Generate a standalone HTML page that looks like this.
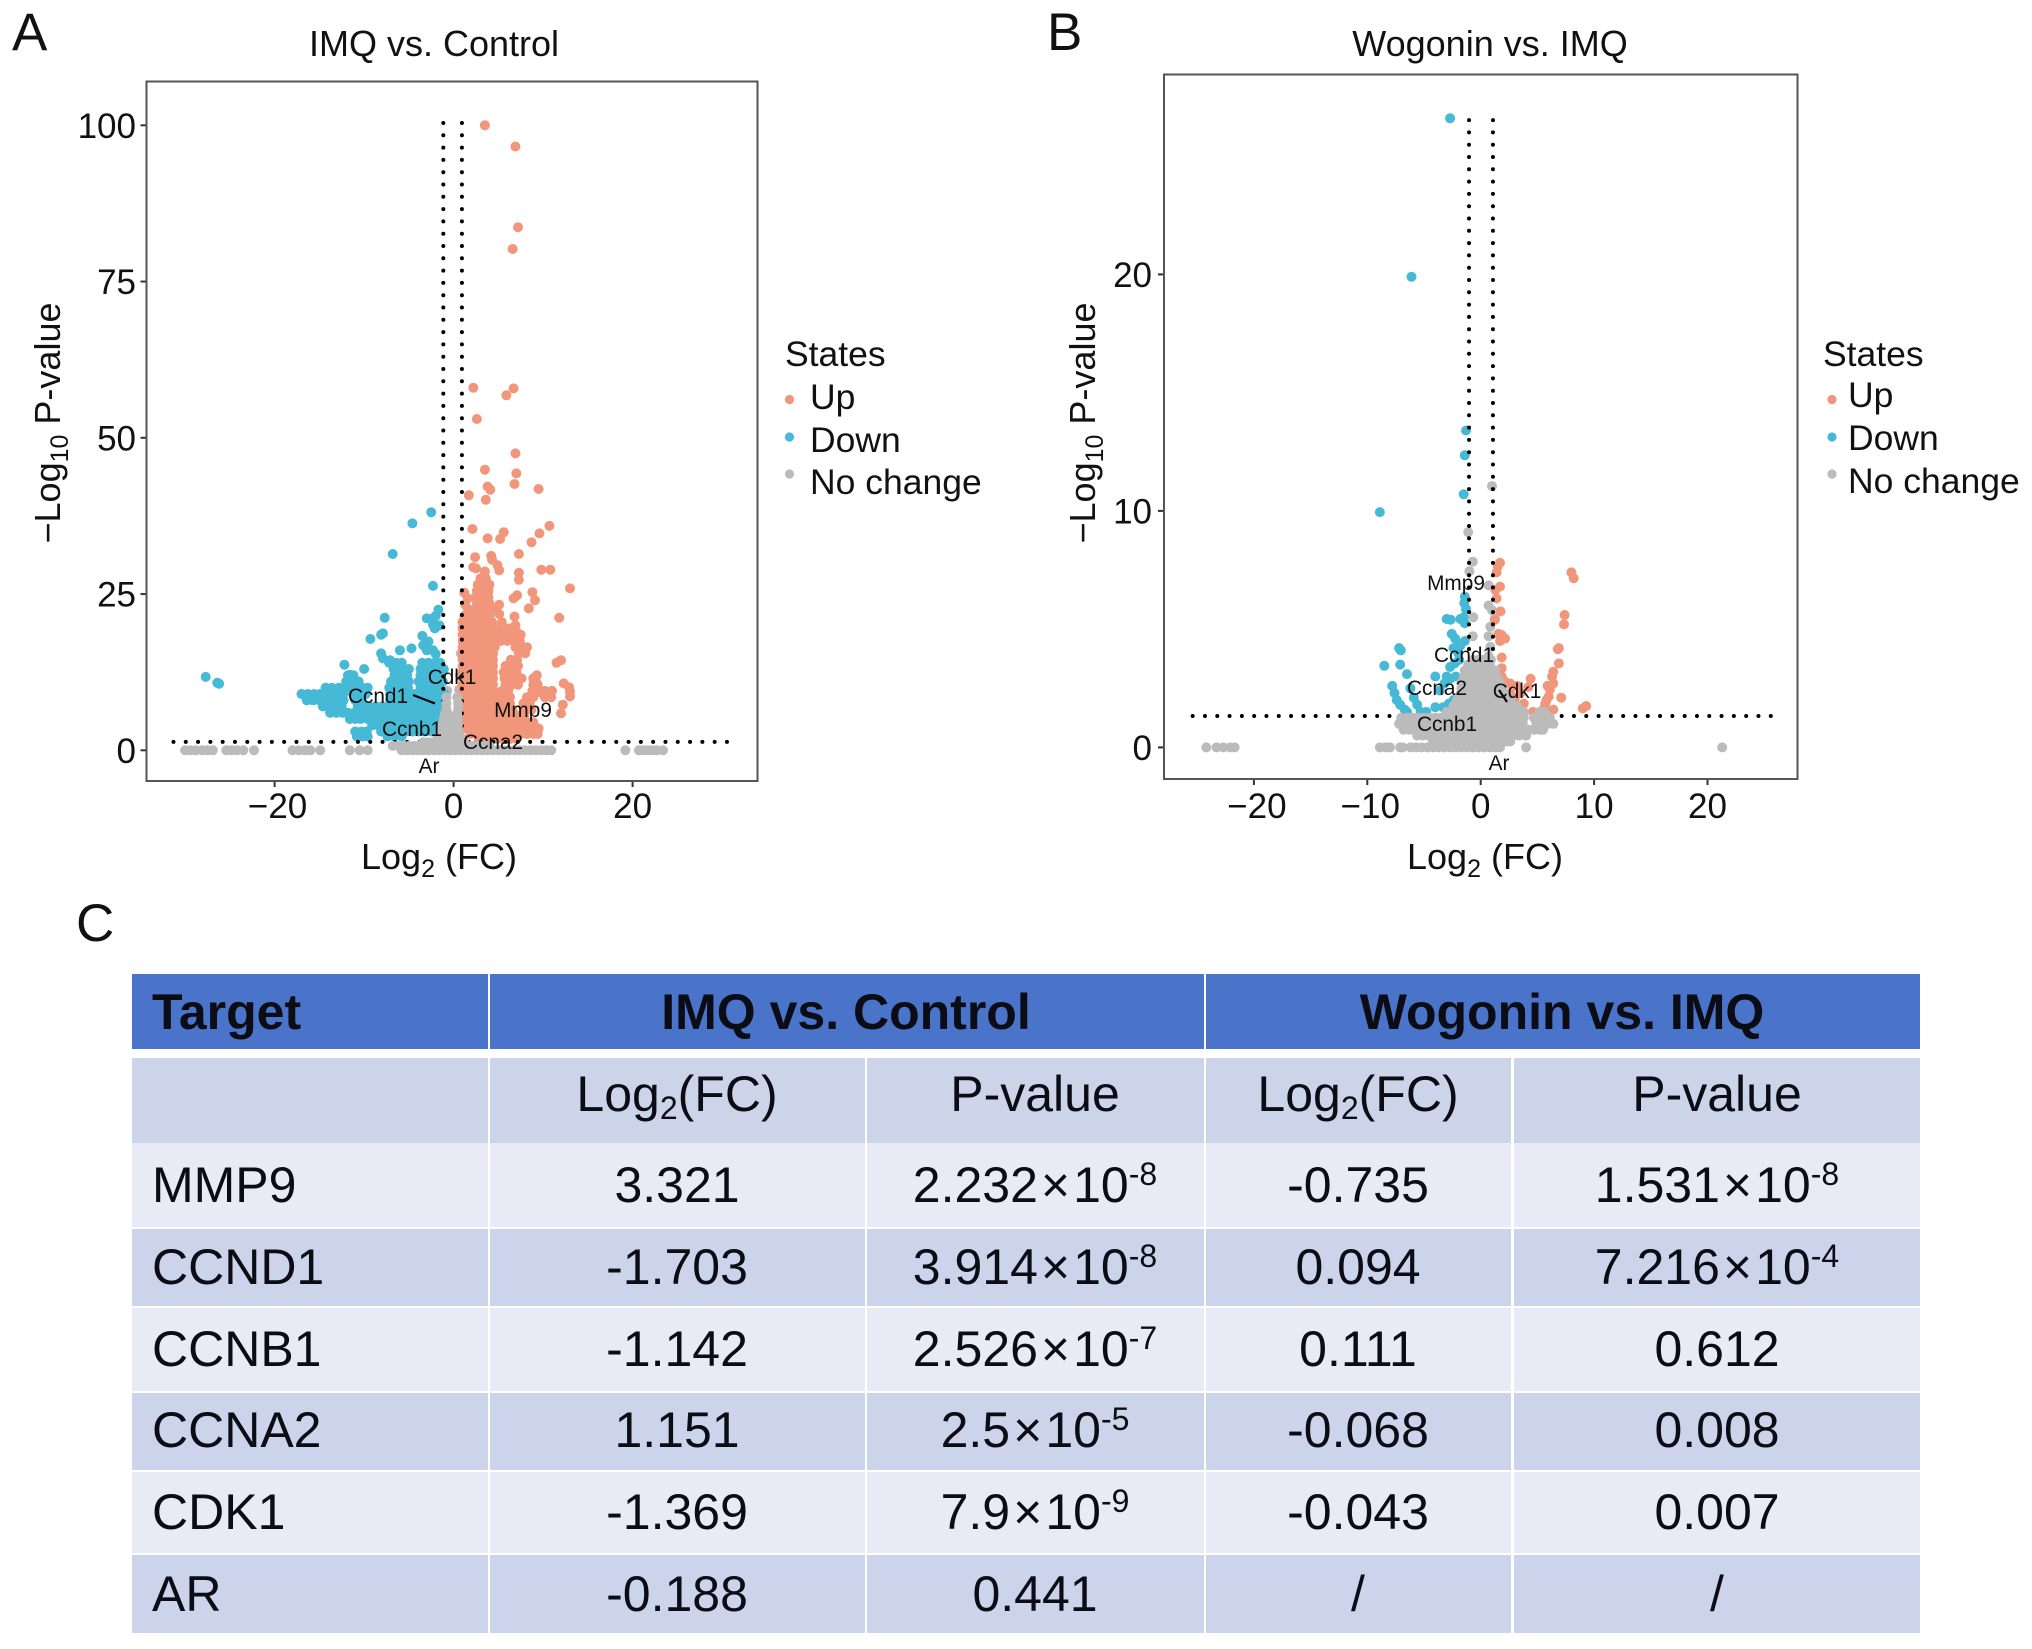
<!DOCTYPE html>
<html lang="en">
<head>
<meta charset="utf-8">
<title>Volcano plots and target table</title>
<style>
html,body{margin:0;padding:0;background:#fff;}
svg{display:block;font-family:"Liberation Sans",Arial,sans-serif;fill:#111;}
.tick{font-size:35px;fill:#111;}
.axt{font-size:36px;fill:#111;}
.leg{font-size:35.5px;fill:#111;}
.rep{font-size:20.8px;fill:#111;}
.pl{font-size:53px;fill:#111;}
.th{font-size:50px;font-weight:bold;fill:#0c0c14;}
.td{font-size:50px;fill:#0c0c14;}
</style>
</head>
<body>
<svg id="fig" xmlns="http://www.w3.org/2000/svg" width="2032" height="1649" viewBox="0 0 2032 1649">
  <rect x="0" y="0" width="2032" height="1649" fill="#ffffff"/>

  <text class="pl" x="12" y="50">A</text>
  <text class="pl" x="1047" y="50">B</text>
  <text class="pl" x="76" y="941">C</text>

  <text class="axt" x="434" y="56" text-anchor="middle">IMQ vs. Control</text>
  <text class="axt" x="1490" y="56" text-anchor="middle">Wogonin vs. IMQ</text>

  <g id="panelA"></g>
  <g id="panelB"></g>

  <text class="axt" x="439" y="869" text-anchor="middle">Log<tspan font-size="25" dy="8">2</tspan><tspan dy="-8"> (FC)</tspan></text>
  <text class="axt" x="1485" y="869" text-anchor="middle">Log<tspan font-size="25" dy="8">2</tspan><tspan dy="-8"> (FC)</tspan></text>
  <text class="axt" transform="translate(60,423) rotate(-90)" text-anchor="middle">−Log<tspan font-size="25" dy="8">10</tspan><tspan dy="-8"> P-value</tspan></text>
  <text class="axt" transform="translate(1095,423) rotate(-90)" text-anchor="middle">−Log<tspan font-size="25" dy="8">10</tspan><tspan dy="-8"> P-value</tspan></text>

  <g>
    <text class="leg" x="785" y="366">States</text>
    <circle cx="789.5" cy="399.5" r="4.6" fill="#f2967b"/>
    <text class="leg" x="810" y="409">Up</text>
    <circle cx="789.5" cy="437" r="4.6" fill="#45b9d6"/>
    <text class="leg" x="810" y="452">Down</text>
    <circle cx="789.5" cy="474" r="4.6" fill="#bbbbbb"/>
    <text class="leg" x="810" y="494">No change</text>
  </g>
  <g>
    <text class="leg" x="1823" y="366">States</text>
    <circle cx="1832" cy="399.5" r="4.6" fill="#f2967b"/>
    <text class="leg" x="1848" y="407">Up</text>
    <circle cx="1832" cy="437" r="4.6" fill="#45b9d6"/>
    <text class="leg" x="1848" y="450">Down</text>
    <circle cx="1832" cy="474" r="4.6" fill="#bbbbbb"/>
    <text class="leg" x="1848" y="493">No change</text>
  </g>

  <g id="table">
    <rect x="132" y="974" width="356" height="75" fill="#4a73ca"/>
    <rect x="490" y="974" width="714" height="75" fill="#4a73ca"/>
    <rect x="1206" y="974" width="714" height="75" fill="#4a73ca"/>
    <text class="th" x="152" y="1029">Target</text>
    <text class="th" x="846" y="1029" text-anchor="middle">IMQ vs. Control</text>
    <text class="th" x="1562" y="1029" text-anchor="middle">Wogonin vs. IMQ</text>

    <g fill="#ccd4e9">
      <rect x="132" y="1058" width="356" height="85"/><rect x="490" y="1058" width="375" height="85"/><rect x="867" y="1058" width="337" height="85"/><rect x="1206" y="1058" width="305" height="85"/><rect x="1514" y="1058" width="406" height="85"/>
    </g>
    <g fill="#e8ebf6">
      <rect x="132" y="1143" width="356" height="84"/><rect x="490" y="1143" width="375" height="84"/><rect x="867" y="1143" width="337" height="84"/><rect x="1206" y="1143" width="305" height="84"/><rect x="1514" y="1143" width="406" height="84"/>
    </g>
    <g fill="#cbd4ea">
      <rect x="132" y="1229" width="356" height="77"/><rect x="490" y="1229" width="375" height="77"/><rect x="867" y="1229" width="337" height="77"/><rect x="1206" y="1229" width="305" height="77"/><rect x="1514" y="1229" width="406" height="77"/>
    </g>
    <g fill="#e8ebf6">
      <rect x="132" y="1308" width="356" height="83"/><rect x="490" y="1308" width="375" height="83"/><rect x="867" y="1308" width="337" height="83"/><rect x="1206" y="1308" width="305" height="83"/><rect x="1514" y="1308" width="406" height="83"/>
    </g>
    <g fill="#cbd4ea">
      <rect x="132" y="1393" width="356" height="77"/><rect x="490" y="1393" width="375" height="77"/><rect x="867" y="1393" width="337" height="77"/><rect x="1206" y="1393" width="305" height="77"/><rect x="1514" y="1393" width="406" height="77"/>
    </g>
    <g fill="#e8ebf6">
      <rect x="132" y="1472" width="356" height="81"/><rect x="490" y="1472" width="375" height="81"/><rect x="867" y="1472" width="337" height="81"/><rect x="1206" y="1472" width="305" height="81"/><rect x="1514" y="1472" width="406" height="81"/>
    </g>
    <g fill="#cbd4ea">
      <rect x="132" y="1555" width="356" height="78"/><rect x="490" y="1555" width="375" height="78"/><rect x="867" y="1555" width="337" height="78"/><rect x="1206" y="1555" width="305" height="78"/><rect x="1514" y="1555" width="406" height="78"/>
    </g>

    <text class="td" x="677" y="1111" text-anchor="middle">Log<tspan font-size="32" dy="8">2</tspan><tspan dy="-8">(FC)</tspan></text>
    <text class="td" x="1035" y="1111" text-anchor="middle">P-value</text>
    <text class="td" x="1358" y="1111" text-anchor="middle">Log<tspan font-size="32" dy="8">2</tspan><tspan dy="-8">(FC)</tspan></text>
    <text class="td" x="1717" y="1111" text-anchor="middle">P-value</text>

    <text class="td" x="152" y="1202">MMP9</text>
    <text class="td" x="677" y="1202" text-anchor="middle">3.321</text>
    <text class="td" x="1035" y="1202" text-anchor="middle">2.232<tspan dx="3">×</tspan><tspan dx="3">10</tspan><tspan font-size="32" dy="-17">-8</tspan></text>
    <text class="td" x="1358" y="1202" text-anchor="middle">-0.735</text>
    <text class="td" x="1717" y="1202" text-anchor="middle">1.531<tspan dx="3">×</tspan><tspan dx="3">10</tspan><tspan font-size="32" dy="-17">-8</tspan></text>

    <text class="td" x="152" y="1284">CCND1</text>
    <text class="td" x="677" y="1284" text-anchor="middle">-1.703</text>
    <text class="td" x="1035" y="1284" text-anchor="middle">3.914<tspan dx="3">×</tspan><tspan dx="3">10</tspan><tspan font-size="32" dy="-17">-8</tspan></text>
    <text class="td" x="1358" y="1284" text-anchor="middle">0.094</text>
    <text class="td" x="1717" y="1284" text-anchor="middle">7.216<tspan dx="3">×</tspan><tspan dx="3">10</tspan><tspan font-size="32" dy="-17">-4</tspan></text>

    <text class="td" x="152" y="1366">CCNB1</text>
    <text class="td" x="677" y="1366" text-anchor="middle">-1.142</text>
    <text class="td" x="1035" y="1366" text-anchor="middle">2.526<tspan dx="3">×</tspan><tspan dx="3">10</tspan><tspan font-size="32" dy="-17">-7</tspan></text>
    <text class="td" x="1358" y="1366" text-anchor="middle">0.111</text>
    <text class="td" x="1717" y="1366" text-anchor="middle">0.612</text>

    <text class="td" x="152" y="1447">CCNA2</text>
    <text class="td" x="677" y="1447" text-anchor="middle">1.151</text>
    <text class="td" x="1035" y="1447" text-anchor="middle">2.5<tspan dx="3">×</tspan><tspan dx="3">10</tspan><tspan font-size="32" dy="-17">-5</tspan></text>
    <text class="td" x="1358" y="1447" text-anchor="middle">-0.068</text>
    <text class="td" x="1717" y="1447" text-anchor="middle">0.008</text>

    <text class="td" x="152" y="1529">CDK1</text>
    <text class="td" x="677" y="1529" text-anchor="middle">-1.369</text>
    <text class="td" x="1035" y="1529" text-anchor="middle">7.9<tspan dx="3">×</tspan><tspan dx="3">10</tspan><tspan font-size="32" dy="-17">-9</tspan></text>
    <text class="td" x="1358" y="1529" text-anchor="middle">-0.043</text>
    <text class="td" x="1717" y="1529" text-anchor="middle">0.007</text>

    <text class="td" x="152" y="1611">AR</text>
    <text class="td" x="677" y="1611" text-anchor="middle">-0.188</text>
    <text class="td" x="1035" y="1611" text-anchor="middle">0.441</text>
    <text class="td" x="1358" y="1611" text-anchor="middle">/</text>
    <text class="td" x="1717" y="1611" text-anchor="middle">/</text>
  </g>
</svg>

<script>
// ---------- panel A data (log2 FC, -log10 p) ----------
const aXTicks = [-20, 0, 20];
const aYTicks = [0, 25, 50, 75, 100];
const aUpPoints = [[3.5,100],[6.9,96.6],[7.2,83.7],[6.6,80.2],[2.2,58],[6.7,57.9],[5.9,56.8],[2.6,53],[6.9,47.5],[7,44.3],[3.5,44.9],[6.8,42.6],[3.8,42.2],[4.1,41.7],[9.5,41.8],[1.7,40.8],[3.6,40.1],[10.7,35.9],[2.1,35.4],[9.6,34.7],[5.6,34.9],[3.8,33.9],[5.2,33.8],[8.7,33.3],[7.3,31.4],[2.4,30.9],[4.2,31.1],[4.3,30.5],[4.9,29.6],[5.1,28.8],[2.2,29.3],[2.5,29.1],[3.5,28.6],[9.8,28.9],[10.8,28.9],[7.3,28.4],[7.3,27.3],[13,25.9],[8.8,25.3],[9.1,24],[6.7,24.3],[7.1,24.8],[5.1,23.3],[8.4,22.7],[11.8,21.2],[12,14.4],[12.3,10.7],[12.9,10.1],[13,9.4],[13,8.6],[12.2,7.3],[12,5.9],[1.2,25.2],[1.6,24.3],[1.3,23.3],[1.6,22.6],[2,22.4],[5.1,21.8],[6.8,21.4],[6.9,20],[7,19],[11.5,14],[9.3,12],[9.2,11],[9,10],[9.7,9.3],[10.7,8.9]];
const aUpRows = [
 [1.8,[2.8,3.5,4.2,4.9,5.6,6.3,7]],
 [2.6,[1.9,2.6,3.3,4,4.7,5.4,6.1,6.8,7.5,8.2,8.9,9.4]],
 [3.5,[1.4,2.1,2.8,3.5,4.2,4.9,5.6,6.3,7,7.7,8.4,9.1,9.5]],
 [4.5,[1.2,1.9,2.6,3.3,4,4.7,5.4,6.1,6.8,7.5,8.2,8.9]],
 [5.5,[1,1.7,2.4,3.1,3.8,4.5,5.2,5.9,6.6,7.3,7.9]],
 [6.5,[1,1.7,2.4,3.1,3.8,4.5,5.2,5.9,6.6,8,8.7]],
 [7.5,[1,1.7,2.4,3.1,3.8,4.5,5.2,5.9,6.3,7.8,8.5]],
 [8.5,[1,1.7,2.4,3.1,3.8,4.5,5.2,5.9,6.3,8.2,8.9,10.2,10.9]],
 [9.5,[1,1.7,2.4,3.1,3.8,4.5,5.4,6.1,8.8,10.2,11]],
 [10.5,[1,1.7,2.4,3.1,3.8,4.4,5.8,6.5,7.2,8.9,9.4]],
 [11.5,[1,1.7,2.4,3.1,3.8,4.4,5.7,6.4,7.1,7.6,8.9]],
 [12.5,[1,1.7,2.4,3.1,3.8,4.4,5.6,6.3,7]],
 [13.5,[1,1.7,2.4,3.1,3.8,4.4,5.8,6.5,7.2]],
 [14.5,[1,1.7,2.4,3.1,3.8,4.4,6.4,7.1]],
 [15.5,[1,1.7,2.4,3.1,3.8,4.4,7.3,8]],
 [16.5,[1,1.7,2.4,3.1,3.8,4.6,6.9,7.6,8.2]],
 [17.5,[1,1.7,2.4,3.1,3.8,4.5,5.3,6,6.7,7.4]],
 [18.5,[1,1.7,2.4,3.1,3.8,4.5,5.2,5.9,6.6,7.5]],
 [19.5,[1,1.7,2.4,3.1,3.8,4.5,5.2,6.2]],
 [20.5,[1,1.5,2.2,2.9,3.6,4.3,5.4]],
 [21.5,[1.2,1.9,2.6,3.3,4]],
 [22.5,[2.3,3,3.7,4.3]],
 [23.5,[2.6,3.3,4]],
 [24.5,[2.5,3.2,3.9]],
 [25.5,[2.6,3.3,3.9]],
 [26.5,[2.7,3.4,4]],
 [27.5,[3,3.6]]
];
const aDownPoints = [[-27.7,11.75],[-26.4,10.8],[-26.2,10.65],[-2.5,38.1],[-4.6,36.3],[-6.8,31.4],[-2.3,26.3],[-1.7,22.5],[-3,21.1],[-2.3,21.1],[-2,21.5],[-2.3,20.1],[-2.1,19.5],[-3.5,18.3],[-7.7,21.2],[-9.3,17.8],[-8.1,18.5],[-7.9,18.7],[-8.1,15.5],[-7.9,14.7],[-7.1,14.4],[-6,16],[-4.7,16.3],[-3.4,16.8],[-3,16],[-2.3,16],[-2,15.4],[-12.2,13.7],[-10,13],[-11.6,12.1],[-11.2,11.7],[-2.8,17.4],[-1.6,20]];
const aDownRows = [
 [2.2,[-10.8,-10.2,-9.6,-7.4,-6.6,-5.8]],
 [3,[-11,-10.3,-9.7,-8.1,-7.4,-6.7,-6,-5.3,-4.6,-3.9,-3.2,-2.5]],
 [4,[-9.1,-8.4,-7.7,-7,-6.3,-5.6,-4.9,-4.2,-3.5,-2.8,-2.1]],
 [5,[-11.6,-11,-10.4,-9.6,-8.9,-8.2,-7.5,-6.8,-6.1,-5.4,-4.7,-4,-3.3,-2.6,-1.9]],
 [6,[-13.8,-13.1,-12.4,-11.8,-11.1,-10.4,-9.6,-8.9,-8.2,-7.5,-6.8,-6.1,-5.4,-4.7,-4,-3.3,-2.6,-1.8]],
 [7,[-14.6,-13.9,-13.2,-12.5,-10.7,-10.1,-9.4,-8.7,-8,-7.3,-6.6,-5.9,-5.2,-4.5,-3.8,-3.1,-2.4,-1.7,-1.2]],
 [8,[-16.4,-15.7,-15,-14.3,-13.6,-12.9,-12.3,-11,-10.3,-7.1,-6.4,-5.7,-5,-4.3,-3.6,-2.9,-2.2,-1.5,-1.2]],
 [9,[-17,-16.3,-15.6,-14.9,-14.2,-13.5,-12.8,-12.3,-11.2,-10.5,-9.8,-7.1,-6.4,-5.7,-5,-4.3,-3.6,-2.9,-2.2,-1.5,-1]],
 [10,[-14.3,-13.6,-12.8,-12.2,-11.6,-10.9,-10.2,-9.6,-7.2,-6.5,-5.8,-5.1,-3.7,-3,-2.3,-1.6]],
 [11,[-12,-11.3,-10.6,-7,-6.3,-5.6,-5,-3.9,-3.2,-2.5,-1.8,-1.2]],
 [12,[-11.8,-11.2,-6.6,-5.9,-5.2,-3.7,-3,-2.3,-1.6]],
 [13,[-6.7,-6,-5,-3.7,-3,-2.3,-1.6,-1.1]],
 [14,[-7.2,-6.4,-5.8,-3.5,-2.8,-2.1,-1.5]]
];
const aGreyPoints = [[-.7,9.5],[.6,9.7],[.8,15.5],[.7,12]];
const aGreyRows = [
 [0,[-30,-29.4,-28.8,-28.1,-27.5,-26.9,-25.4,-24.8,-24.2,-23.5,-22.3,-18,-17.3,-16.6,-16,-14.9,-11.6,-10.5,-9.6,-5.8,-5.2,-4.6,-4,-3.4,-2.8,-2.2,-1.6,-1,-.4,.2,.8,1.4,2,2.6,3.2,3.8,4.4,5,5.6,6.2,6.8,7.4,8,8.6,9.2,9.8,10.4,10.9,19.2,20.7,21.2,21.7,22.2,22.7,23.4]],
 [.7,[-6.8,-6.2,-5.6,-5,-4.4,-3.8,-3.2,-2.6,-2,-1.4,-.8,-.2,.4,1,1.6,2.2,2.8,3.4,4]],
 [1.3,[-3.4,-2.8,-2.2,-1.6,-1,-.4,.2,.8,1.2]],
 [1.9,[-1.8,-1.2,-.6,0,.6,1]],
 [2.6,[-1.5,-.8,-.1,.6]],
 [3.4,[-1.3,-.7,-.1,.5]],
 [4.2,[-1.2,-.6,0,.5]],
 [5,[-1.1,-.5,.4]],
 [5.8,[-1,-.6,.4]],
 [6.6,[-.8,.5]],
 [7.5,[-.8,.5]],
 [8.5,[-.8,.4]]
];
const aXAxis = {zero: 453.6, perUnit: 8.95};
const aYAxis = {zero: 750.3, perUnit: 6.25};

// ---------- panel B data ----------
const bXTicks = [-20, -10, 0, 10, 20];
const bYTicks = [0, 10, 20];
const bUpPoints = [[1.7,7.8],[1.5,7.65],[1.4,7.4],[8,7.4],[8.2,7.15],[1.7,6.8],[1.3,6.66],[1.4,6.3],[1.75,5.75],[7.4,5.6],[7.35,5.2],[1.25,5.4],[1.55,4.8],[1.85,4.75],[2.15,4.6],[1.7,4.5],[6.9,4.2],[6.8,4.15],[6.9,3.55],[1.85,3.8],[1.85,3.35],[6.4,3.2],[6.3,3],[4.4,2.9],[1.85,3],[2.1,2.8],[2.6,2.7],[3.2,2.6],[4.2,2.55],[6.4,2.7],[6.1,2.45],[6,2.15],[7.1,2.1],[5.7,1.85],[5.6,1.65],[3.8,1.85],[3,2.05],[2.6,2.3],[3.5,2.3],[9.3,1.75],[9,1.65],[6.4,1.6],[5.9,2.6],[5.8,2],[4.6,1.5]];
const bDownPoints = [[-2.7,26.6],[-6.1,19.9],[-8.9,9.95],[-1.3,13.4],[-1.4,12.35],[-1.5,10.7],[-1.4,6.37],[-1.45,6.1],[-1.3,5.85],[-1.5,5.5],[-1.8,5.43],[-3,5.43],[-2.65,5.4],[-1.4,5.25],[-2.55,4.8],[-2.25,4.6],[-1.4,4.5],[-1.8,4.3],[-7.2,4.2],[-7.05,4.1],[-2.4,4.2],[-2,4],[-8.5,3.45],[-7.1,3.5],[-2.7,3.4],[-2.3,3.55],[-1.9,3.7],[-6.5,3.1],[-3,3],[-4,3],[-7.8,2.6],[-7.6,2.3],[-7.4,2],[-7.1,1.8],[-6.7,1.6],[-6.2,2.5],[-5.9,2.1],[-5.6,1.8],[-3.2,2.7],[-3.6,2.4],[-4,1.7],[-6.5,1.5],[-5.3,1.5],[-4.8,1.5],[-2.4,2],[-2.8,1.85],[-3.3,1.7],[-2.7,2.9],[-2.2,3]];
const bGreyPoints = [[1,11.05],[-1.1,9.1],[-.7,7.85],[-1,7.45],[.7,6.85],[.7,6],[1,5.8],[1.25,5.45],[.85,5.1],[.7,4.7],[.85,4.25],[.7,3.85],[-.65,5.5],[-.7,4.7]];
const bGreyRows = [
 [0,[-24.2,-23.3,-22.7,-22.1,-21.7,-8.9,-8.4,-8,-7.1,-6.9,-6.2,-5.7,-5.2,-4.7,-4.2,-3.7,-3.2,-2.7,-2.2,-1.7,-1.2,-.7,-.2,.3,.8,1.3,1.7,4,21.3]],
 [.25,[-4.2,-3.7,-3.2,-2.7,-2.2,-1.7,-1.2,-.7,-.2,.3,.8,1.3,1.8,2.3,2.6]],
 [.5,[-5.6,-5.1,-4.6,-4.1,-3.6,-3.1,-2.6,-2.1,-1.6,-1.1,-.6,-.1,.4,.9,1.4,1.9,2.4,2.9,3.4,4]],
 [.75,[-6.8,-6.3,-5.8,-5.3,-4.8,-4.3,-3.8,-3.3,-2.8,-2.3,-1.8,-1.3,-.8,-.3,.2,.7,1.2,1.7,2.2,2.7,3.2,3.7,4.2,4.7,5.2,5.5]],
 [1,[-7.2,-6.7,-6.2,-5.7,-5.2,-4.7,-4.2,-3.7,-3.2,-2.7,-2.2,-1.7,-1.2,-.7,-.2,.3,.8,1.3,1.8,2.3,2.8,3.3,3.7,4.9,5.4,5.9,6.4]],
 [1.25,[-7,-6.5,-6,-5.5,-5,-4.5,-4,-3.5,-3,-2.5,-2,-1.5,-1,-.5,0,.5,1,1.5,2,2.5,3,3.5,3.8,4.7,5.2,5.7,6.1]],
 [1.5,[-3,-2.5,-2,-1.5,-1,-.5,0,.5,1,1.5,2,2.5,3,3.5,3.8,5.2,5.6]],
 [1.75,[-2.4,-1.9,-1.4,-.9,-.4,.1,.6,1.1,1.6,2.1,2.6,3.2]],
 [2,[-2.1,-1.6,-1.1,-.6,-.1,.4,.9,1.4,1.9,2.3,2.6]],
 [2.25,[-1.8,-1.3,-.8,-.3,.2,.7,1.2,1.7,2.3]],
 [2.5,[-1.7,-1.2,-.7,-.2,.3,.8,1.3,1.9]],
 [2.75,[-1.7,-1.2,-.7,-.2,.3,.8,1.3,1.7]],
 [3,[-1.5,-1,-.5,0,.5,1,1.4]],
 [3.25,[-1.4,-.9,-.4,.1,.6,1.3]],
 [3.5,[-1.1,-.6,-.1,.4,.8]],
 [3.7,[-.7,-.2,.2,.6,.9]]
];
const bXAxis = {zero: 1480.7, perUnit: 11.34};
const bYAxis = {zero: 747.4, perUnit: 23.65};

const SVGNS = 'http://www.w3.org/2000/svg';
const POINT_RADIUS = 5;
const COLOR_UP = '#f2967b';
const COLOR_DOWN = '#45b9d6';
const COLOR_GREY = '#bbbbbb';

function makeEl(tag, parent) {
  const el = document.createElementNS(SVGNS, tag);
  parent.appendChild(el);
  return el;
}
function expandRows(rows) {
  const out = [];
  rows.forEach(function (r) {
    r[1].forEach(function (x) { out.push([x, r[0]]); });
  });
  return out;
}
function drawPoints(parent, pts, color, xf, yf, name) {
  pts.forEach(function (p) {
    const el = makeEl('circle', parent);
    el.setAttribute('cx', xf(p[0]).toFixed(1));
    el.setAttribute('cy', yf(p[1]).toFixed(1));
    el.setAttribute('r', POINT_RADIUS);
    el.setAttribute('fill', color);
    
    
  });
}
function drawDotted(parent, x1, y1, x2, y2, name) {
  const el = makeEl('line', parent);
  el.setAttribute('x1', x1);
  el.setAttribute('y1', y1);
  el.setAttribute('x2', x2);
  el.setAttribute('y2', y2);
  el.setAttribute('stroke', '#000');
  el.setAttribute('stroke-width', '4');
  el.setAttribute('stroke-linecap', 'round');
  el.setAttribute('stroke-dasharray', '0 12.3');
  
  
}
function drawLabel(parent, text, x, y, name) {
  const el = makeEl('text', parent);
  el.setAttribute('x', x);
  el.setAttribute('y', y);
  el.setAttribute('class', 'rep');
  el.setAttribute('text-anchor', 'middle');
  el.textContent = text;
  
  
}
function drawSegment(parent, x1, y1, x2, y2, name) {
  const el = makeEl('line', parent);
  el.setAttribute('x1', x1);
  el.setAttribute('y1', y1);
  el.setAttribute('x2', x2);
  el.setAttribute('y2', y2);
  el.setAttribute('stroke', '#000');
  el.setAttribute('stroke-width', '2.2');
  
  
}
function drawAxes(parent, frame, xTicks, yTicks, xf, yf, yLabelRight) {
  xTicks.forEach(function (v) {
    const t = makeEl('line', parent);
    t.setAttribute('x1', xf(v));
    t.setAttribute('x2', xf(v));
    t.setAttribute('y1', frame.bottom);
    t.setAttribute('y2', frame.bottom + 6);
    t.setAttribute('stroke', '#333');
    t.setAttribute('stroke-width', '2');
    
    
    const l = makeEl('text', parent);
    l.setAttribute('x', xf(v) + (v < 0 ? 3 : 0));
    l.setAttribute('y', 818);
    l.setAttribute('class', 'tick');
    l.setAttribute('text-anchor', 'middle');
    l.textContent = String(v).replace('-', '\u2212');
    
    
  });
  yTicks.forEach(function (v) {
    const t = makeEl('line', parent);
    t.setAttribute('x1', frame.left - 6);
    t.setAttribute('x2', frame.left);
    t.setAttribute('y1', yf(v));
    t.setAttribute('y2', yf(v));
    t.setAttribute('stroke', '#333');
    t.setAttribute('stroke-width', '2');
    
    
    const l = makeEl('text', parent);
    l.setAttribute('x', yLabelRight);
    l.setAttribute('y', yf(v) + 12.5);
    l.setAttribute('class', 'tick');
    l.setAttribute('text-anchor', 'end');
    l.textContent = String(v);
    
    
  });
}
function drawFrame(parent, frame) {
  const el = makeEl('rect', parent);
  el.setAttribute('x', frame.left);
  el.setAttribute('y', frame.top);
  el.setAttribute('width', frame.right - frame.left);
  el.setAttribute('height', frame.bottom - frame.top);
  el.setAttribute('fill', 'none');
  el.setAttribute('stroke', '#555');
  el.setAttribute('stroke-width', '2');
  
  
}

function xA(v) { return aXAxis.zero + v * aXAxis.perUnit; }
function yA(v) { return aYAxis.zero - v * aYAxis.perUnit; }
function xB(v) { return bXAxis.zero + v * bXAxis.perUnit; }
function yB(v) { return bYAxis.zero - v * bYAxis.perUnit; }

// Panel A
(function () {
  const g = document.getElementById('panelA');
  const frame = {left: 146.5, right: 757.5, top: 81.5, bottom: 781};
  drawAxes(g, frame, aXTicks, aYTicks, xA, yA, 136);
  drawPoints(g, aGreyPoints, COLOR_GREY, xA, yA, 'point-no-change');
  drawPoints(g, aUpPoints.concat(expandRows(aUpRows)), COLOR_UP, xA, yA, 'point-up');
  drawPoints(g, aDownPoints.concat(expandRows(aDownRows)), COLOR_DOWN, xA, yA, 'point-down');
  drawDotted(g, xA(-1.15), yA(0), xA(-1.15), yA(101.5), 'threshold-fc-low');
  drawDotted(g, xA(.93), yA(0), xA(.93), yA(101.5), 'threshold-fc-high');
  drawDotted(g, xA(-31.3), yA(1.35), xA(31.2), yA(1.35), 'threshold-p-value');
  drawPoints(g, expandRows(aGreyRows), COLOR_GREY, xA, yA, 'point-no-change');
  drawFrame(g, frame);
  drawSegment(g, 413, 695, 435, 703.5, 'ccnd1-leader-line');
  drawLabel(g, 'Ccnd1', 378, 703, 'gene-label-ccnd1');
  drawLabel(g, 'Cdk1', 452, 684, 'gene-label-cdk1');
  drawLabel(g, 'Mmp9', 523, 717, 'gene-label-mmp9');
  drawLabel(g, 'Ccnb1', 412, 736, 'gene-label-ccnb1');
  drawLabel(g, 'Ccna2', 493, 749, 'gene-label-ccna2');
  drawLabel(g, 'Ar', 429, 773, 'gene-label-ar');
})();

// Panel B
(function () {
  const g = document.getElementById('panelB');
  const frame = {left: 1164, right: 1797.5, top: 74.5, bottom: 779};
  drawAxes(g, frame, bXTicks, bYTicks, xB, yB, 1152);
  drawPoints(g, bGreyPoints, COLOR_GREY, xB, yB, 'point-no-change');
  drawPoints(g, bUpPoints, COLOR_UP, xB, yB, 'point-up');
  drawPoints(g, bDownPoints, COLOR_DOWN, xB, yB, 'point-down');
  drawDotted(g, xB(-1.03), yB(0), xB(-1.03), yB(27), 'threshold-fc-low');
  drawDotted(g, xB(1.08), yB(0), xB(1.08), yB(27), 'threshold-fc-high');
  drawDotted(g, xB(-25.4), yB(1.33), xB(25.6), yB(1.33), 'threshold-p-value');
  drawPoints(g, expandRows(bGreyRows), COLOR_GREY, xB, yB, 'point-no-change');
  drawFrame(g, frame);
  drawSegment(g, 1499, 690, 1507, 702, 'cdk1-leader-line');
  drawLabel(g, 'Mmp9', 1456, 590, 'gene-label-mmp9');
  drawLabel(g, 'Ccnd1', 1464, 662, 'gene-label-ccnd1');
  drawLabel(g, 'Ccna2', 1437, 695, 'gene-label-ccna2');
  drawLabel(g, 'Cdk1', 1517, 698, 'gene-label-cdk1');
  drawLabel(g, 'Ccnb1', 1447, 731, 'gene-label-ccnb1');
  drawLabel(g, 'Ar', 1499, 770, 'gene-label-ar');
})();
</script>
</body>
</html>
